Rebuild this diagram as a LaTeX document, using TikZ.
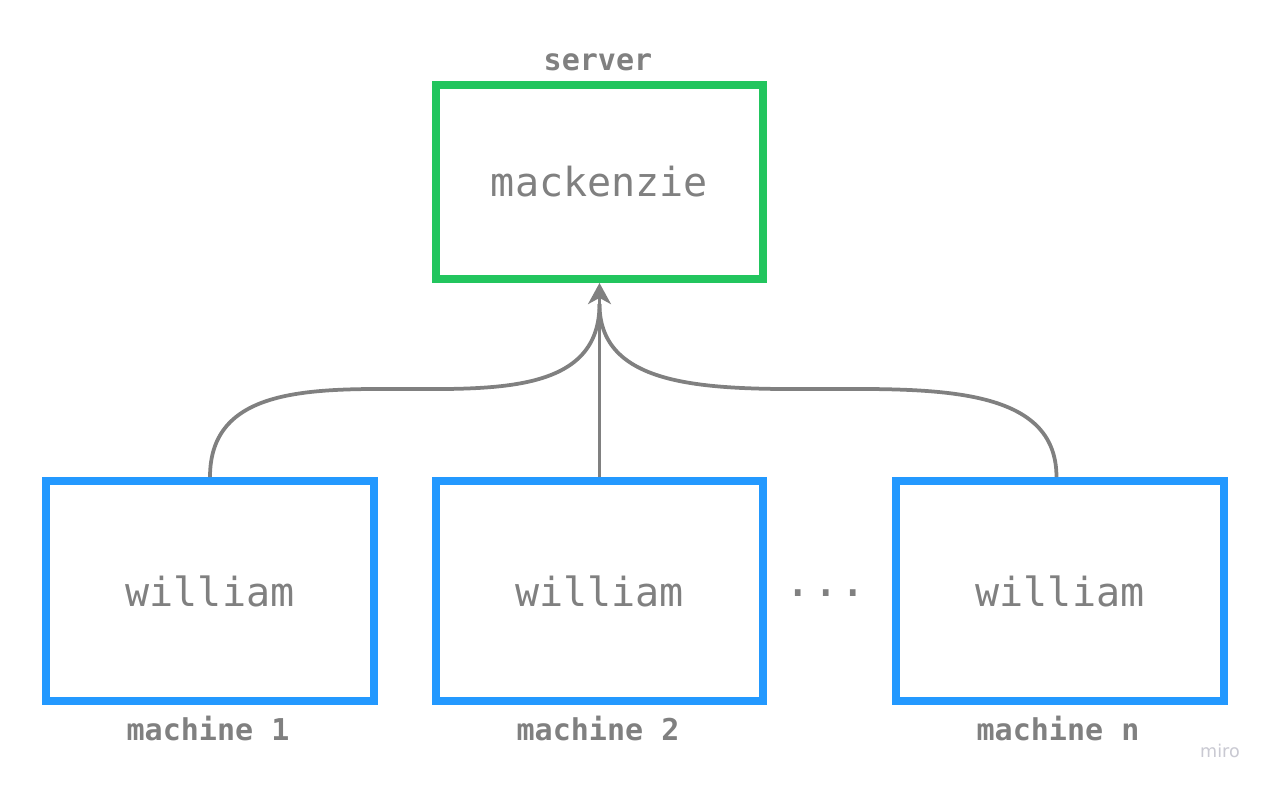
\documentclass[tikz,border=0pt]{standalone}
\usepackage{fontspec}
\newfontfamily\diagfont{DejaVu Sans Mono}
\newfontfamily\logofont{DejaVu Sans}
\usetikzlibrary{arrows.meta}
\definecolor{ServerGreen}{HTML}{22C55E}
\definecolor{MachineBlue}{HTML}{2399FF}
\definecolor{TextGray}{HTML}{808080}
\definecolor{LogoGray}{HTML}{C9C9D2}
\tikzset{
  box/.style={draw, line width=0.16cm, minimum width=6.56cm, minimum height=4.4cm,
    inner sep=0pt, text=TextGray, font=\diagfont\fontsize{22.8}{27}\selectfont},
  caption/.style={text=TextGray, inner sep=0pt, font=\diagfont\bfseries\fontsize{17.1}{20}\selectfont},
  conn/.style={draw=TextGray, line width=0.075cm},
  tip/.tip={Stealth[length=12pt, width=13pt, inset=3.5pt]}
}

\begin{document}
\begin{tikzpicture}[x=0.02cm,y=-0.02cm]
  \useasboundingbox[fill=white] (0,0) rectangle (1269,787);

  % server on top
  \node[box, draw=ServerGreen, minimum height=3.88cm] (srv) at (599.5,182) {mackenzie};
  \node[caption] (srvlabel) at (598,62) {server};

  % the machines
  \node[box, draw=MachineBlue] (m1) at (210,591) {william};
  \node[box, draw=MachineBlue] (m2) at (599.5,591) {william};
  \node[box, draw=MachineBlue] (m3) at (1060,591) {william};
  \node[caption] (m1label) at (208,728) {machine 1};
  \node[caption] (m2label) at (598,728) {machine 2};
  \node[caption] (m3label) at (1058,728) {machine n};
  \node[text=TextGray, inner sep=0pt, font=\diagfont\fontsize{26}{30}\selectfont] (dots) at (826,593) {...};

  % connectors
  \coordinate (join) at (599.5,304);
  \draw[conn] (m1.north) .. controls +(0,-177) and +(0,173) .. (join);
  \draw[conn] ([xshift=-2]m3.north) .. controls +(0,-177) and +(0,173) .. (join);
  \draw[conn, -tip] (m2.north) -- (srv.south);

  \node[text=LogoGray, inner sep=0pt, font=\logofont\fontsize{10}{12}\selectfont] (logo) at (1220,751) {miro};
\end{tikzpicture}
\end{document}
